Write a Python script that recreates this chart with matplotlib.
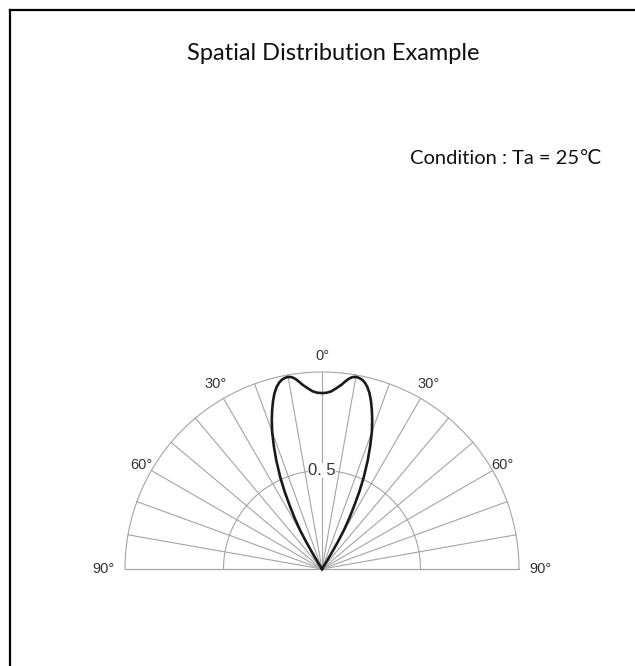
import numpy as np
import matplotlib.pyplot as plt
from matplotlib.lines import Line2D

# relative intensity vs. angle from axis (one side, mirrored)
angle_deg = [0, 1.5, 3, 4.5, 6, 7, 8, 9, 10, 11, 12, 13, 14, 15.1, 16.2,
             17.4, 18.7, 20, 21.4, 22.8, 24.5, 25.8, 27, 28.2, 29.4, 30.3,
             31, 31.6, 32]
intensity = [0.893, 0.895, 0.903, 0.92, 0.94, 0.958, 0.975, 0.986, 0.99,
             0.988, 0.982, 0.97, 0.952, 0.925, 0.89, 0.846, 0.795, 0.74,
             0.67, 0.60, 0.51, 0.435, 0.36, 0.295, 0.23, 0.16, 0.09, 0.04,
             0.0]

label_angles = [-90, -60, -30, 0, 30, 60, 90]
label_texts = ['90°', '60°', '30°', '0°', '30°', '60°', '90°']
label_radius = [1.11, 1.06, 1.085, 1.08, 1.085, 1.06, 1.11]

ring_values = [0.5, 1.0]
spoke_step = 10

fig = plt.figure(figsize=(6.35, 6.66), dpi=100)
ax = fig.add_axes([125 / 635, 97 / 666, 394 / 635, 197 / 666])
ax.set_xlim(-1, 1)
ax.set_ylim(0, 1)
ax.axis('off')

grid_kw = dict(color='#a4a4a4', lw=0.8, zorder=1, clip_on=False)

# spokes every 10 degrees
for a in range(-90, 91, spoke_step):
    t = np.radians(a)
    ax.plot([0, np.sin(t)], [0, np.cos(t)], **grid_kw)

# rings
phi = np.radians(np.linspace(-90, 90, 361))
for rv in ring_values:
    ax.plot(rv * np.sin(phi), rv * np.cos(phi), **grid_kw)
ax.plot([-1, 1], [0, 0], **grid_kw)

# pattern, mirrored about 0 deg
th = np.array([-a for a in angle_deg[::-1]] + angle_deg[1:], dtype=float)
rr = np.array(intensity[::-1] + intensity[1:])
t = np.radians(th)
ax.plot(rr * np.sin(t), rr * np.cos(t), color='#1a1a1a', lw=1.9, zorder=3,
        clip_on=False, solid_joinstyle='round')

# angle labels
for a, s, rl in zip(label_angles, label_texts, label_radius):
    t = np.radians(a)
    ax.text(rl * np.sin(t), rl * np.cos(t), s, ha='center', va='center',
            fontsize=10.5, color='#333333', family='Liberation Sans',
            clip_on=False)

ax.text(0, 0.5, '0. 5', ha='center', va='center', fontsize=12,
        color='#333333', family='Liberation Sans', zorder=2,
        bbox=dict(facecolor='white', edgecolor='none', pad=0.3))

fig.text(333 / 635, 1 - 53 / 666, 'Spatial Distribution Example',
         ha='center', va='center', fontsize=17, color='#111111',
         family=['Lato', 'DejaVu Sans'])
fig.text(602 / 635, 1 - 159 / 666, 'Condition : Ta = 25℃',
         ha='right', va='center', fontsize=14.5, color='#111111',
         family=['Lato', 'DejaVu Sans'])

# frame lines, top and left
fig.add_artist(Line2D([10 / 635, 1], [1 - 10 / 666, 1 - 10 / 666],
                      color='black', lw=1.6, transform=fig.transFigure))
fig.add_artist(Line2D([10 / 635, 10 / 635], [0, 1 - 10 / 666],
                      color='black', lw=1.6, transform=fig.transFigure))

fig.savefig('out.png', dpi=100)
